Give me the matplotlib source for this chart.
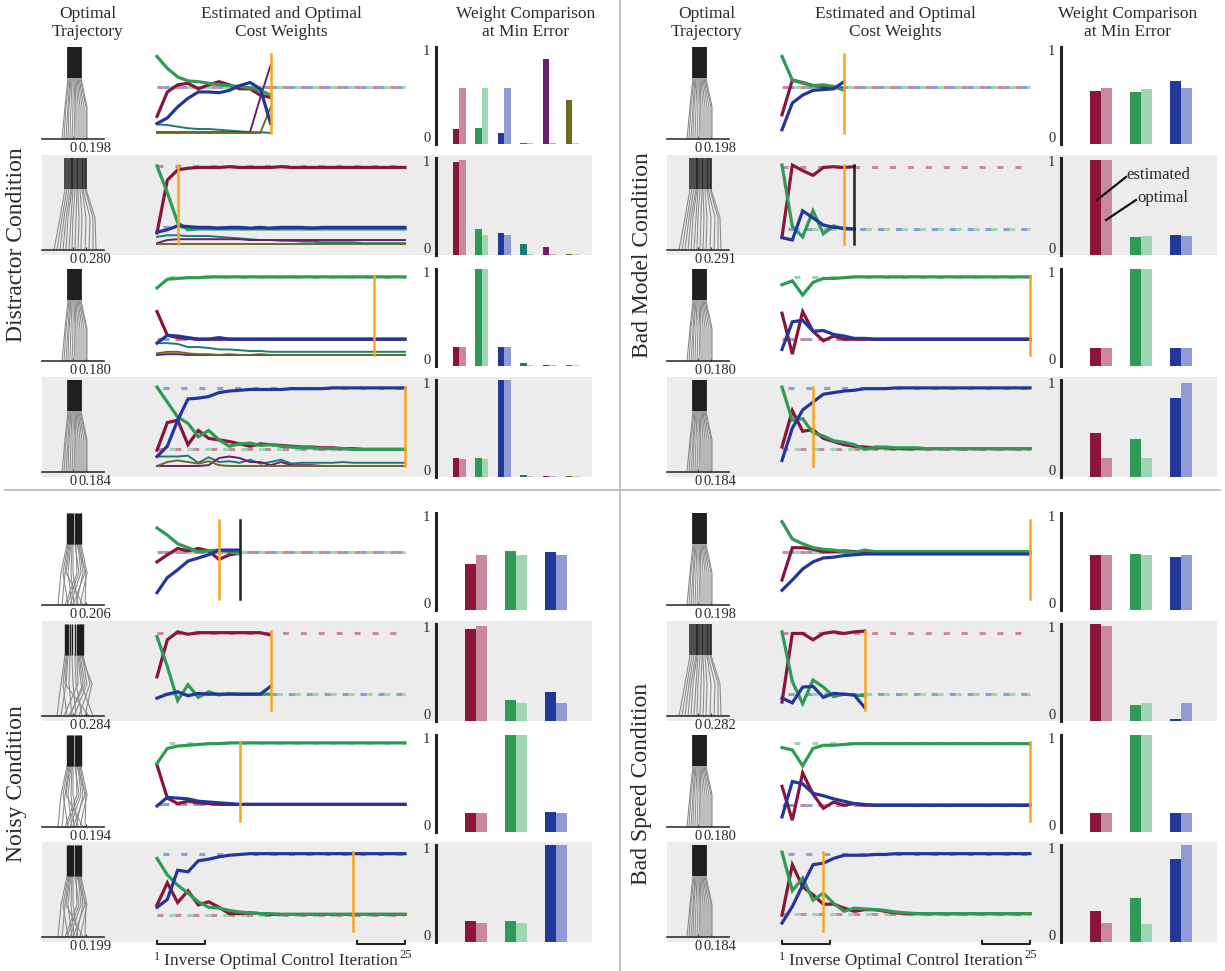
import matplotlib
matplotlib.use('Agg')
import matplotlib.pyplot as plt
from matplotlib.lines import Line2D
from matplotlib.patches import Rectangle

plt.rcParams['font.family'] = ['Liberation Serif', 'DejaVu Serif']
plt.rcParams['lines.scale_dashes'] = False

W, H = 1225, 971

# ---------------- colours ----------------
EST = ['#8B1538', '#2F9A55', '#23379B', '#1B7A78', '#6C1D6E', '#6D6A22']
OPT = ['#C8899B', '#A0D5B3', '#8F9CD3', '#9CCBC8', '#C7A0C9', '#CFCDA0']

# ---------------- Distractor condition (6 features) ----------------
d1_red    = [0.21, 0.52, 0.61, 0.63, 0.56, 0.61, 0.65, 0.61, 0.56, 0.56, 0.48, 0.45]
d1_green  = [0.97, 0.82, 0.71, 0.66, 0.65, 0.63, 0.61, 0.60, 0.59, 0.57, 0.54, 0.48]
d1_blue   = [0.12, 0.19, 0.33, 0.44, 0.52, 0.52, 0.51, 0.54, 0.60, 0.64, 0.56, 0.12]
d1_teal   = [0.11, 0.10, 0.08, 0.06, 0.05, 0.05, 0.04, 0.03, 0.02, 0.01, 0.01, 0.00]
d1_purple = [0.01, 0.01, 0.01, 0.01, 0.01, 0.01, 0.01, 0.01, 0.01, 0.01, 0.45, 0.86]
d1_olive  = [0.00, 0.00, 0.00, 0.00, 0.00, 0.00, 0.00, 0.00, 0.00, 0.00, 0.00, 0.33]
d1_opt = [0.58, 0.58, 0.58]
d1_bar_est = [0.15, 0.16, 0.11, 0.01, 0.88, 0.45]
d1_bar_opt = [0.58, 0.58, 0.58, 0.01, 0.01, 0.01]

d2_red    = [0.14, 0.81, 0.94, 0.96, 0.97, 0.97, 0.97, 0.98, 0.97, 0.97, 0.97, 0.97, 0.98, 0.97, 0.97, 0.97, 0.97, 0.97, 0.97, 0.97, 0.97, 0.97, 0.97, 0.97, 0.97]
d2_green  = [0.99, 0.65, 0.27, 0.18, 0.19, 0.19, 0.19, 0.19, 0.19, 0.19, 0.19, 0.19, 0.19, 0.19, 0.19, 0.19, 0.19, 0.19, 0.19, 0.19, 0.19, 0.19, 0.19, 0.19, 0.19]
d2_blue   = [0.15, 0.18, 0.23, 0.22, 0.21, 0.21, 0.20, 0.21, 0.21, 0.20, 0.21, 0.20, 0.21, 0.21, 0.21, 0.20, 0.21, 0.21, 0.21, 0.21, 0.21, 0.21, 0.21, 0.21, 0.21]
d2_teal   = [0.09, 0.11, 0.11, 0.10, 0.10, 0.10, 0.09, 0.08, 0.07, 0.06, 0.05, 0.05, 0.04, 0.04, 0.03, 0.03, 0.02, 0.02, 0.02, 0.02, 0.01, 0.01, 0.01, 0.01, 0.01]
d2_purple = [0.01, 0.05, 0.06, 0.06, 0.06, 0.06, 0.06, 0.06, 0.06, 0.05, 0.05, 0.05, 0.05, 0.05, 0.05, 0.05, 0.05, 0.05, 0.05, 0.05, 0.05, 0.05, 0.05, 0.05, 0.05]
d2_olive  = [0.00, 0.00, 0.00, 0.00, 0.00, 0.00, 0.00, 0.00, 0.00, 0.00, 0.00, 0.00, 0.00, 0.00, 0.00, 0.00, 0.00, 0.00, 0.00, 0.00, 0.00, 0.00, 0.00, 0.00, 0.00]
d2_opt = [0.99, 0.21, 0.21]
d2_bar_est = [0.96, 0.27, 0.23, 0.11, 0.08, 0.01]
d2_bar_opt = [0.98, 0.21, 0.21, 0.01, 0.01, 0.01]

d3_red    = [0.55, 0.25, 0.22, 0.21, 0.20, 0.20, 0.20, 0.20, 0.20, 0.20, 0.20, 0.20, 0.20, 0.20, 0.20, 0.20, 0.20, 0.20, 0.20, 0.20, 0.20, 0.20, 0.20, 0.20, 0.20]
d3_green  = [0.85, 0.96, 0.97, 0.98, 0.98, 0.99, 0.99, 0.99, 0.99, 0.99, 0.99, 0.99, 0.99, 0.99, 0.99, 0.99, 0.99, 0.99, 0.99, 0.99, 0.99, 0.99, 0.99, 0.99, 0.99]
d3_blue   = [0.15, 0.25, 0.24, 0.22, 0.20, 0.20, 0.22, 0.20, 0.20, 0.20, 0.20, 0.20, 0.20, 0.20, 0.20, 0.20, 0.20, 0.20, 0.20, 0.20, 0.20, 0.20, 0.20, 0.20, 0.20]
d3_teal   = [0.15, 0.15, 0.14, 0.10, 0.10, 0.09, 0.07, 0.07, 0.06, 0.05, 0.05, 0.04, 0.04, 0.04, 0.04, 0.04, 0.04, 0.04, 0.04, 0.04, 0.04, 0.04, 0.04, 0.04, 0.04]
d3_purple = [0.00, 0.01, 0.01, 0.00, 0.00, 0.00, 0.00, 0.00, 0.00, 0.00, 0.00, 0.00, 0.00, 0.00, 0.00, 0.00, 0.00, 0.00, 0.00, 0.00, 0.00, 0.00, 0.00, 0.00, 0.00]
d3_olive  = [0.02, 0.04, 0.04, 0.02, 0.01, 0.01, 0.00, 0.01, 0.00, 0.00, 0.01, 0.00, 0.00, 0.00, 0.00, 0.00, 0.00, 0.00, 0.00, 0.00, 0.00, 0.00, 0.00, 0.00, 0.00]
d3_opt = [0.20, 0.99, 0.20]
d3_bar_est = [0.20, 1.00, 0.20, 0.03, 0.01, 0.01]
d3_bar_opt = [0.20, 1.00, 0.20, 0.01, 0.01, 0.01]

d4_red    = [0.20, 0.55, 0.58, 0.27, 0.45, 0.35, 0.33, 0.31, 0.28, 0.25, 0.28, 0.27, 0.26, 0.25, 0.24, 0.24, 0.23, 0.23, 0.22, 0.22, 0.21, 0.21, 0.21, 0.21, 0.21]
d4_green  = [1.00, 0.81, 0.62, 0.54, 0.37, 0.45, 0.33, 0.25, 0.28, 0.29, 0.26, 0.27, 0.25, 0.24, 0.23, 0.23, 0.22, 0.22, 0.22, 0.21, 0.21, 0.21, 0.21, 0.21, 0.21]
d4_blue   = [0.12, 0.25, 0.58, 0.85, 0.86, 0.88, 0.93, 0.95, 0.96, 0.97, 0.97, 0.97, 0.97, 0.98, 0.98, 0.98, 0.98, 0.99, 0.99, 0.99, 0.99, 0.99, 0.99, 0.99, 0.99]
d4_teal   = [0.12, 0.12, 0.12, 0.13, 0.04, 0.11, 0.05, 0.06, 0.04, 0.08, 0.03, 0.05, 0.08, 0.03, 0.04, 0.04, 0.04, 0.04, 0.05, 0.04, 0.04, 0.04, 0.04, 0.04, 0.04]
d4_purple = [0.00, 0.00, 0.00, 0.00, 0.00, 0.01, 0.10, 0.12, 0.10, 0.05, 0.05, 0.01, 0.05, 0.01, 0.01, 0.01, 0.00, 0.00, 0.00, 0.00, 0.00, 0.00, 0.00, 0.00, 0.00]
d4_olive  = [0.00, 0.05, 0.07, 0.05, 0.03, 0.06, 0.01, 0.00, 0.00, 0.00, 0.00, 0.00, 0.00, 0.00, 0.00, 0.00, 0.00, 0.00, 0.00, 0.00, 0.00, 0.00, 0.00, 0.00, 0.00]
d4_opt = [0.21, 0.21, 0.99]
d4_bar_est = [0.20, 0.20, 1.00, 0.02, 0.01, 0.01]
d4_bar_opt = [0.19, 0.19, 1.00, 0.01, 0.01, 0.01]

dist_best = [12, 3, 22, 25]
dist_stop = [None, None, None, None]
dist_ticks = ['0.198', '0.280', '0.180', '0.184']

# ---------------- Bad Model condition ----------------
m1_red   = [0.23, 0.67, 0.64, 0.60, 0.59, 0.58, 0.56]
m1_green = [0.97, 0.67, 0.63, 0.60, 0.61, 0.59, 0.54]
m1_blue  = [0.04, 0.38, 0.48, 0.54, 0.55, 0.56, 0.65]
m1_opt = [0.58, 0.58, 0.58]
m1_bar_est = [0.55, 0.54, 0.65]
m1_bar_opt = [0.58, 0.57, 0.58]

m2_red   = [0.09, 1.00, 0.93, 0.87, 0.97, 0.98, 0.97, 0.98]
m2_green = [1.00, 0.22, 0.09, 0.42, 0.13, 0.23, 0.19, 0.19]
m2_blue  = [0.08, 0.05, 0.42, 0.33, 0.24, 0.21, 0.20, 0.19]
m2_opt = [0.98, 0.19, 0.19]
m2_bar_est = [0.98, 0.19, 0.21]
m2_bar_opt = [0.98, 0.20, 0.20]

m3_red   = [0.53, 0.01, 0.55, 0.30, 0.18, 0.24, 0.20, 0.20, 0.20, 0.20, 0.20, 0.20, 0.20, 0.20, 0.20, 0.20, 0.20, 0.20, 0.20, 0.20, 0.20, 0.20, 0.20, 0.20, 0.20]
m3_green = [0.89, 0.94, 0.76, 0.92, 0.97, 0.97, 0.98, 0.99, 0.99, 0.99, 0.99, 0.99, 0.99, 0.99, 0.99, 0.99, 0.99, 0.99, 0.99, 0.99, 0.99, 0.99, 0.99, 0.99, 0.99]
m3_blue  = [0.07, 0.42, 0.44, 0.30, 0.31, 0.26, 0.24, 0.21, 0.21, 0.20, 0.20, 0.20, 0.20, 0.20, 0.20, 0.20, 0.20, 0.20, 0.20, 0.20, 0.20, 0.20, 0.20, 0.20, 0.20]
m3_opt = [0.20, 0.99, 0.20]
m3_bar_est = [0.19, 1.00, 0.19]
m3_bar_opt = [0.19, 1.00, 0.19]

m4_red   = [0.24, 0.70, 0.44, 0.46, 0.35, 0.31, 0.27, 0.25, 0.24, 0.23, 0.23, 0.22, 0.22, 0.22, 0.22, 0.22, 0.22, 0.22, 0.22, 0.22, 0.22, 0.22, 0.22, 0.22, 0.22]
m4_green = [1.00, 0.58, 0.60, 0.42, 0.38, 0.32, 0.30, 0.27, 0.21, 0.24, 0.24, 0.23, 0.23, 0.23, 0.22, 0.22, 0.22, 0.22, 0.22, 0.22, 0.22, 0.22, 0.22, 0.22, 0.22]
m4_blue  = [0.07, 0.48, 0.71, 0.81, 0.91, 0.93, 0.95, 0.96, 0.98, 0.98, 0.98, 0.99, 0.99, 0.99, 0.99, 0.99, 0.99, 0.99, 0.99, 0.99, 0.99, 0.99, 0.99, 0.99, 0.99]
m4_opt = [0.21, 0.21, 0.99]
m4_bar_est = [0.45, 0.39, 0.81]
m4_bar_opt = [0.20, 0.20, 0.97]

model_best = [7, 7, 25, 4]
model_stop = [None, 8, None, None]
model_ticks = ['0.198', '0.291', '0.180', '0.184']

# ---------------- Noisy condition ----------------
n1_red   = [0.47, 0.56, 0.64, 0.61, 0.64, 0.61, 0.50, 0.56, 0.58]
n1_green = [0.90, 0.81, 0.70, 0.65, 0.60, 0.61, 0.62, 0.60, 0.57]
n1_blue  = [0.08, 0.27, 0.37, 0.48, 0.52, 0.56, 0.62, 0.62, 0.62]
n1_opt = [0.59, 0.59, 0.59]
n1_bar_est = [0.47, 0.61, 0.60]
n1_bar_opt = [0.57, 0.57, 0.57]

n2_red   = [0.42, 0.89, 0.99, 0.96, 0.98, 0.98, 0.98, 0.98, 0.98, 0.98, 0.98, 0.95]
n2_green = [0.93, 0.55, 0.12, 0.32, 0.16, 0.23, 0.19, 0.21, 0.20, 0.20, 0.20, 0.20]
n2_blue  = [0.15, 0.20, 0.23, 0.18, 0.21, 0.20, 0.20, 0.20, 0.20, 0.20, 0.20, 0.30]
n2_opt = [0.98, 0.20, 0.20]
n2_bar_est = [0.95, 0.22, 0.30]
n2_bar_opt = [0.98, 0.19, 0.19]

n3_red   = [0.71, 0.29, 0.22, 0.25, 0.23, 0.22, 0.21, 0.21, 0.21, 0.21, 0.21, 0.21, 0.21, 0.21, 0.21, 0.21, 0.21, 0.21, 0.21, 0.21, 0.21, 0.21, 0.21, 0.21, 0.21]
n3_green = [0.73, 0.92, 0.95, 0.96, 0.97, 0.98, 0.98, 0.99, 0.99, 0.99, 0.99, 0.99, 0.99, 0.99, 0.99, 0.99, 0.99, 0.99, 0.99, 0.99, 0.99, 0.99, 0.99, 0.99, 0.99]
n3_blue  = [0.19, 0.30, 0.29, 0.28, 0.25, 0.24, 0.23, 0.22, 0.21, 0.21, 0.21, 0.21, 0.21, 0.21, 0.21, 0.21, 0.21, 0.21, 0.21, 0.21, 0.21, 0.21, 0.21, 0.21, 0.21]
n3_opt = [0.21, 0.99, 0.21]
n3_bar_est = [0.20, 1.00, 0.21]
n3_bar_opt = [0.20, 1.00, 0.20]

n4_red   = [0.33, 0.61, 0.36, 0.51, 0.33, 0.37, 0.30, 0.22, 0.22, 0.23, 0.22, 0.21, 0.21, 0.21, 0.21, 0.21, 0.21, 0.21, 0.21, 0.21, 0.21, 0.21, 0.21, 0.21, 0.21]
n4_green = [0.92, 0.71, 0.58, 0.48, 0.37, 0.30, 0.29, 0.26, 0.24, 0.23, 0.22, 0.22, 0.21, 0.21, 0.21, 0.21, 0.21, 0.21, 0.21, 0.21, 0.21, 0.21, 0.21, 0.21, 0.21]
n4_blue  = [0.30, 0.40, 0.77, 0.75, 0.89, 0.91, 0.94, 0.96, 0.97, 0.98, 0.98, 0.98, 0.98, 0.98, 0.98, 0.98, 0.98, 0.98, 0.98, 0.98, 0.98, 0.98, 0.98, 0.98, 0.98]
n4_opt = [0.20, 0.20, 0.98]
n4_bar_est = [0.22, 0.22, 1.00]
n4_bar_opt = [0.20, 0.20, 1.00]

noisy_best = [7, 12, 9, 20]
noisy_stop = [9, None, None, None]
noisy_ticks = ['0.206', '0.284', '0.194', '0.199']

# ---------------- Bad Speed condition ----------------
s1_red   = [0.24, 0.65, 0.65, 0.63, 0.60, 0.60, 0.61, 0.60, 0.59, 0.59, 0.59, 0.59, 0.59, 0.59, 0.59, 0.59, 0.59, 0.59, 0.59, 0.59, 0.59, 0.59, 0.59, 0.59, 0.59]
s1_green = [0.98, 0.76, 0.70, 0.65, 0.63, 0.62, 0.60, 0.59, 0.62, 0.60, 0.60, 0.60, 0.60, 0.60, 0.60, 0.60, 0.60, 0.60, 0.60, 0.60, 0.60, 0.60, 0.60, 0.60, 0.60]
s1_blue  = [0.11, 0.24, 0.38, 0.47, 0.52, 0.53, 0.55, 0.56, 0.57, 0.57, 0.57, 0.57, 0.57, 0.57, 0.57, 0.57, 0.57, 0.57, 0.57, 0.57, 0.57, 0.57, 0.57, 0.57, 0.57]
s1_opt = [0.59, 0.59, 0.59]
s1_bar_est = [0.57, 0.58, 0.55]
s1_bar_opt = [0.57, 0.57, 0.57]

s2_red   = [0.10, 0.97, 0.97, 0.89, 0.97, 0.99, 0.97, 0.99, 1.00]
s2_green = [0.99, 0.36, 0.08, 0.38, 0.29, 0.17, 0.20, 0.19, 0.18]
s2_blue  = [0.15, 0.09, 0.29, 0.30, 0.16, 0.21, 0.20, 0.19, 0.03]
s2_opt = [0.98, 0.20, 0.20]
s2_bar_est = [1.00, 0.16, 0.02]
s2_bar_opt = [0.98, 0.19, 0.19]

s3_red   = [0.44, 0.01, 0.61, 0.34, 0.16, 0.24, 0.20, 0.22, 0.20, 0.20, 0.20, 0.20, 0.20, 0.20, 0.20, 0.20, 0.20, 0.20, 0.20, 0.20, 0.20, 0.20, 0.20, 0.20, 0.20]
s3_green = [0.93, 0.90, 0.70, 0.92, 0.96, 0.96, 0.97, 0.98, 0.98, 0.98, 0.98, 0.98, 0.98, 0.98, 0.98, 0.98, 0.98, 0.98, 0.98, 0.98, 0.98, 0.98, 0.98, 0.98, 0.98]
s3_blue  = [0.05, 0.50, 0.47, 0.35, 0.32, 0.28, 0.25, 0.22, 0.21, 0.20, 0.20, 0.20, 0.20, 0.20, 0.20, 0.20, 0.20, 0.20, 0.20, 0.20, 0.20, 0.20, 0.20, 0.20, 0.20]
s3_opt = [0.20, 0.99, 0.20]
s3_bar_est = [0.20, 1.00, 0.20]
s3_bar_opt = [0.20, 1.00, 0.20]

s4_red   = [0.20, 0.84, 0.56, 0.46, 0.34, 0.34, 0.29, 0.25, 0.27, 0.27, 0.25, 0.23, 0.22, 0.22, 0.22, 0.22, 0.22, 0.22, 0.22, 0.22, 0.22, 0.22, 0.22, 0.22, 0.22]
s4_green = [1.00, 0.51, 0.67, 0.39, 0.48, 0.35, 0.25, 0.29, 0.28, 0.27, 0.26, 0.24, 0.23, 0.22, 0.22, 0.22, 0.22, 0.22, 0.22, 0.22, 0.22, 0.22, 0.22, 0.22, 0.22]
s4_blue  = [0.10, 0.31, 0.58, 0.84, 0.86, 0.92, 0.96, 0.96, 0.96, 0.97, 0.97, 0.98, 0.98, 0.98, 0.98, 0.98, 0.98, 0.98, 0.98, 0.98, 0.98, 0.98, 0.98, 0.98, 0.98]
s4_opt = [0.21, 0.21, 0.98]
s4_bar_est = [0.32, 0.45, 0.86]
s4_bar_opt = [0.20, 0.19, 1.00]

speed_best = [25, 9, 25, 5]
speed_stop = [None, None, None, None]
speed_ticks = ['0.198', '0.282', '0.180', '0.184']

# ---------------- trajectory bundles (x offsets at three heights) ----------------
traj_tight_bottom = [-11, -9, -7, -5, -3, -1, 1, 3, 5, 7, 9, 11, 13, 14]
traj_tight_mid    = [-8, -7, -5, -4, -2, 0, 2, 3, 5, 7, 9, 11, 13, 14]
traj_tight_top    = [-5, -4, -3, -2, -1, 0, 1, 2, 3, 4, 5, 6, 7, 8]

traj_wide_bottom = [-19, -16, -13, -10, -7, -4, -1, 2, 5, 8, 12, 16, 20, 23]
traj_wide_mid    = [-13, -11, -9, -7, -5, -2, 0, 3, 6, 9, 13, 17, 20, 22]
traj_wide_top    = [-8, -6, -4, -2, -1, 0, 2, 4, 5, 7, 9, 10, 12, 13]

traj_noisy_bottom = [-15, -11, -8, -5, -3, -1, 0, 1, 3, 5, 7, -6, 10, 12]
traj_noisy_mid    = [-12, -8, 4, -10, 8, -5, 12, -2, 10, 0, 14, 6, -7, 13]
traj_noisy_top    = [-6, -4, 3, -5, 5, -2, 7, -1, 6, 0, 8, 2, -3, 4]

traj_noisyw_bottom = [-16, -12, -9, -6, -3, -1, 1, 3, 6, 9, 12, 16, 20, -4]
traj_noisyw_mid    = [-12, -7, 5, -10, 10, -4, 14, 0, 17, 3, 19, -8, 8, 12]
traj_noisyw_top    = [-8, -5, 4, -7, 6, -3, 9, -1, 10, 2, 8, -6, 5, 7]

TRAJ = {
    'tight': (traj_tight_bottom, traj_tight_mid, traj_tight_top, 1.3),
    'wide': (traj_wide_bottom, traj_wide_mid, traj_wide_top, 1.1),
    'noisy': (traj_noisy_bottom, traj_noisy_mid, traj_noisy_top, 1.0),
    'noisyw': (traj_noisyw_bottom, traj_noisyw_mid, traj_noisyw_top, 1.0),
}


def rows(est_lists, opts, bar_e, bar_o, best, stop, ticks, trajs):
    out = []
    for k in range(4):
        out.append(dict(est=est_lists[k], opt=opts[k], bar_est=bar_e[k], bar_opt=bar_o[k],
                        best=best[k], stop=stop[k], tick=ticks[k], traj=trajs[k]))
    return out


conditions = [
    dict(name='Distractor Condition', dx=0, tops=[47, 158, 269, 380], label_xy=(17, 245),
         rows=rows([[d1_red, d1_green, d1_blue, d1_teal, d1_purple, d1_olive],
                    [d2_red, d2_green, d2_blue, d2_teal, d2_purple, d2_olive],
                    [d3_red, d3_green, d3_blue, d3_teal, d3_purple, d3_olive],
                    [d4_red, d4_green, d4_blue, d4_teal, d4_purple, d4_olive]],
                   [d1_opt, d2_opt, d3_opt, d4_opt],
                   [d1_bar_est, d2_bar_est, d3_bar_est, d4_bar_est],
                   [d1_bar_opt, d2_bar_opt, d3_bar_opt, d4_bar_opt],
                   dist_best, dist_stop, dist_ticks, ['tight', 'wide', 'tight', 'tight'])),
    dict(name='Bad Model Condition', dx=625, tops=[47, 158, 269, 380], label_xy=(642, 255),
         rows=rows([[m1_red, m1_green, m1_blue], [m2_red, m2_green, m2_blue],
                    [m3_red, m3_green, m3_blue], [m4_red, m4_green, m4_blue]],
                   [m1_opt, m2_opt, m3_opt, m4_opt],
                   [m1_bar_est, m2_bar_est, m3_bar_est, m4_bar_est],
                   [m1_bar_opt, m2_bar_opt, m3_bar_opt, m4_bar_opt],
                   model_best, model_stop, model_ticks, ['tight', 'wide', 'tight', 'tight'])),
    dict(name='Noisy Condition', dx=0, tops=[513, 624, 735, 845], label_xy=(17, 784),
         rows=rows([[n1_red, n1_green, n1_blue], [n2_red, n2_green, n2_blue],
                    [n3_red, n3_green, n3_blue], [n4_red, n4_green, n4_blue]],
                   [n1_opt, n2_opt, n3_opt, n4_opt],
                   [n1_bar_est, n2_bar_est, n3_bar_est, n4_bar_est],
                   [n1_bar_opt, n2_bar_opt, n3_bar_opt, n4_bar_opt],
                   noisy_best, noisy_stop, noisy_ticks, ['noisy', 'noisyw', 'noisy', 'noisy'])),
    dict(name='Bad Speed Condition', dx=625, tops=[513, 624, 735, 845], label_xy=(642, 784),
         rows=rows([[s1_red, s1_green, s1_blue], [s2_red, s2_green, s2_blue],
                    [s3_red, s3_green, s3_blue], [s4_red, s4_green, s4_blue]],
                   [s1_opt, s2_opt, s3_opt, s4_opt],
                   [s1_bar_est, s2_bar_est, s3_bar_est, s4_bar_est],
                   [s1_bar_opt, s2_bar_opt, s3_bar_opt, s4_bar_opt],
                   speed_best, speed_stop, speed_ticks, ['tight', 'wide', 'tight', 'tight'])),
]


def fbox(x0, y0, x1, y1):
    return [x0 / W, 1 - y1 / H, (x1 - x0) / W, (y1 - y0) / H]


def fx(x):
    return x / W


def fy(y):
    return 1 - y / H


fig = plt.figure(figsize=(W / 100, H / 100), dpi=100)
TXT = '#2a2a2a'

for cond in conditions:
    dx = cond['dx']
    for r, row in enumerate(cond['rows']):
        top = cond['tops'][r]
        bot = top + 97
        if r % 2 == 1:
            fig.add_artist(Rectangle((fx(42 + dx), fy(bot)), (550) / W, (bot - top + 3) / H,
                                     transform=fig.transFigure, facecolor='#ECECEC',
                                     edgecolor='none', zorder=-5))
        # ---- trajectory panel
        axt = fig.add_axes(fbox(42 + dx, top, 104 + dx, top + 92))
        axt.patch.set_alpha(0)
        xb, xm, xt, blw = TRAJ[row['traj']]
        for a, b, c in zip(xb, xm, xt):
            axt.plot([a, b, c], [0, 0.35, 0.66], color='#8C8C8C', lw=0.8, clip_on=False)
        for c in xt:
            axt.plot([c, c], [0.66, 1.0], color='#1E1E1E', lw=blw, solid_capstyle='butt', clip_on=False)
        axt.set_xlim(-31, 31)
        axt.set_ylim(0, 1)
        for s in ['top', 'left', 'right']:
            axt.spines[s].set_visible(False)
        axt.spines['bottom'].set_color('#333333')
        axt.spines['bottom'].set_linewidth(1.2)
        axt.set_xticks([0, 13])
        axt.set_xticklabels(['', ''])
        axt.tick_params(axis='x', length=2, width=0.8, direction='in', colors='#333333')
        axt.set_yticks([])
        axt.annotate('0', xy=(0, 0), xycoords=('data', 'axes fraction'), xytext=(0, -2),
                     textcoords='offset points', ha='center', va='top', fontsize=10.5, color=TXT)
        axt.annotate(row['tick'], xy=(5.5, 0), xycoords=('data', 'axes fraction'), xytext=(0, -2),
                     textcoords='offset points', ha='left', va='top', fontsize=10.5, color=TXT)

        # ---- weights panel
        axw = fig.add_axes(fbox(157 + dx, top, 405 + dx, bot))
        axw.axis('off')
        axw.set_xlim(1, 25)
        axw.set_ylim(-0.14, 1.09)
        for k, v in enumerate(row['opt']):
            axw.plot([1, 25], [v, v], color=OPT[k], lw=2.2,
                     linestyle=(k * 4.3, (4.3, 8.6)), solid_capstyle='butt', zorder=1, clip_on=False)
        est = row['est']
        order = list(range(3, len(est))) + [0, 1, 2]
        for k in order:
            series = est[k]
            its = list(range(1, len(series) + 1))
            axw.plot(its, series, color=EST[k], lw=2.3 if k < 3 else 1.4,
                     zorder=3 if k < 3 else 2, clip_on=False, solid_joinstyle='miter')
        axw.plot([row['best'], row['best']], [0, 1.0], color='#F8A61C', lw=1.8, zorder=4, clip_on=False)
        if row['stop'] is not None:
            axw.plot([row['stop'], row['stop']], [0, 1.0], color='#222222', lw=1.8, zorder=4, clip_on=False)

        # ---- bar panel
        axb = fig.add_axes(fbox(436 + dx, top, 592 + dx, bot))
        axb.patch.set_alpha(0)
        n = len(row['bar_est'])
        if n == 6:
            axb.set_xlim(-1.02, 5.88)
            w = 0.29
        else:
            axb.set_xlim(-1.0, 2.9)
            w = 0.275
        for k in range(n):
            axb.bar(k - w, row['bar_est'][k], width=w, align='edge', color=EST[k],
                    edgecolor='none', clip_on=False)
            axb.bar(k, row['bar_opt'][k], width=w, align='edge', color=OPT[k],
                    edgecolor='none', clip_on=False)
        axb.set_ylim(0, 1)
        for s in ['top', 'bottom', 'right']:
            axb.spines[s].set_visible(False)
        axb.spines['left'].set_linewidth(2.2)
        axb.spines['left'].set_color('#222222')
        axb.set_xticks([])
        axb.set_yticks([0.07, 0.97])
        axb.set_yticklabels(['0', '1'])
        axb.tick_params(axis='y', length=0, labelsize=10.5, pad=4, colors=TXT)

    # condition label
    lx, ly = cond['label_xy']
    fig.text(fx(lx), fy(ly), cond['name'], rotation=90, ha='center', va='center',
             fontsize=17, color=TXT)

# column titles
for dx, cx in [(0, (88, 281, 526)), (625, (707, 895, 1128))]:
    for cxx, title in zip(cx, ['Optimal\nTrajectory', 'Estimated and Optimal\nCost Weights',
                               'Weight Comparison\nat Min Error']):
        fig.text(fx(cxx), fy(6), title, ha='center', va='top', fontsize=12.5,
                 color=TXT, linespacing=1.15)

# iteration axis brackets (bottom quadrants)
for dx in [0, 625]:
    for xa, xb2 in [(157, 205), (357, 405)]:
        fig.add_artist(Line2D([fx(xa + dx), fx(xa + dx), fx(xb2 + dx), fx(xb2 + dx)],
                              [fy(941), fy(944), fy(944), fy(941)], transform=fig.transFigure,
                              color='#222222', lw=1.5))
    fig.text(fx(157 + dx), fy(957), '1', ha='center', va='center', fontsize=9, color=TXT)
    fig.text(fx(281 + dx), fy(961), 'Inverse Optimal Control Iteration', ha='center', va='center',
             fontsize=12.5, color=TXT)
    fig.text(fx(406 + dx), fy(955), '25', ha='center', va='center', fontsize=9, color=TXT)

# annotation in Bad Model, row 2
fig.text(fx(1158), fy(175), 'estimated', ha='center', va='center', fontsize=12, color=TXT)
fig.text(fx(1163), fy(198), 'optimal', ha='center', va='center', fontsize=12, color=TXT)
fig.add_artist(Line2D([fx(1126), fx(1097)], [fy(177), fy(200)], transform=fig.transFigure,
                      color='#111111', lw=1.6))
fig.add_artist(Line2D([fx(1136), fx(1106)], [fy(200), fy(220)], transform=fig.transFigure,
                      color='#111111', lw=1.6))

# quadrant dividers
fig.add_artist(Line2D([fx(620), fx(620)], [0, 1], transform=fig.transFigure, color='#BBBBBB', lw=1.3))
fig.add_artist(Line2D([fx(5), fx(1220)], [fy(490), fy(490)], transform=fig.transFigure,
                      color='#BBBBBB', lw=1.3))

fig.savefig('out.png', dpi=100)
